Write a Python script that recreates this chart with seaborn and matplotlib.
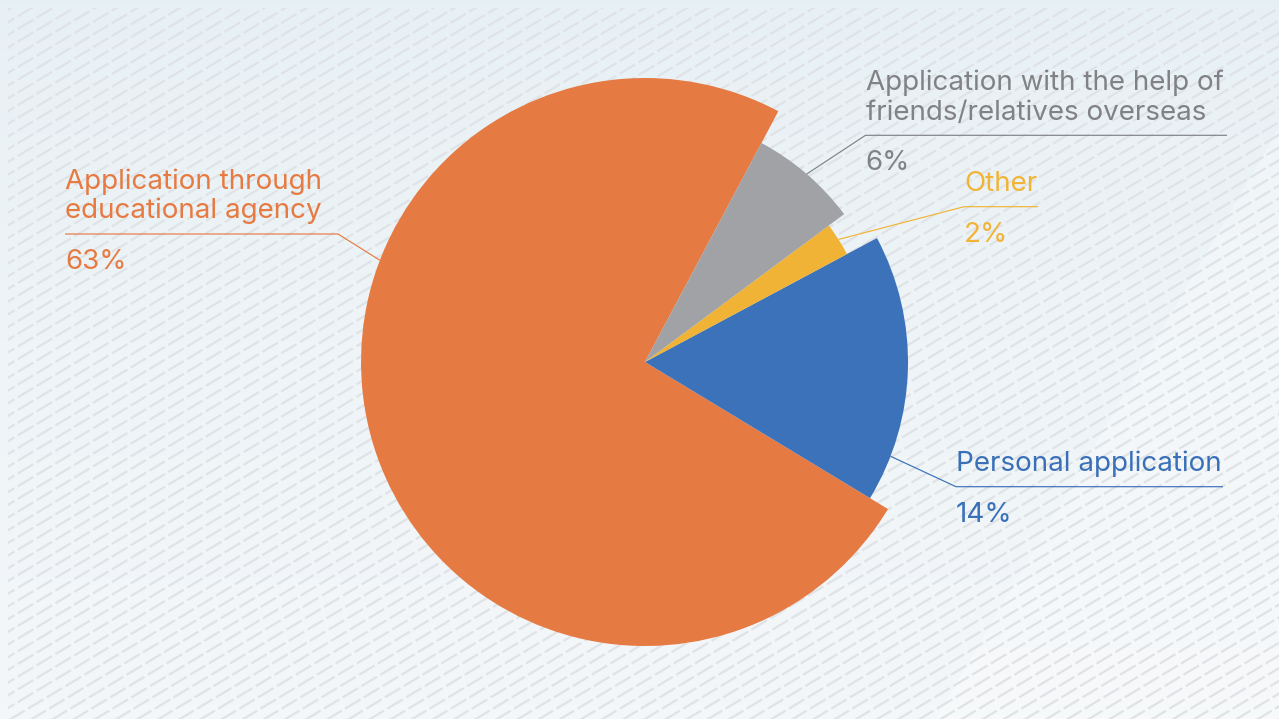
import numpy as np
import matplotlib
matplotlib.use("Agg")
import matplotlib.pyplot as plt
from matplotlib.collections import LineCollection
from matplotlib.patches import Polygon
import seaborn as sns

# ---- data -------------------------------------------------------------
categories = [
    "Application through\neducational agency",
    "Personal application",
    "Other",
    "Application with the help of\nfriends/relatives overseas",
]
shares = [63, 14, 2, 6]
value_labels = ["63%", "14%", "2%", "6%"]

# ---- style ------------------------------------------------------------
sns.set_theme(style="white")
plt.rcParams["font.family"] = ["Inter", "DejaVu Sans"]
plt.rcParams["lines.scale_dashes"] = False

wedge_colors = sns.color_palette(["#E67A43", "#3C72B9", "#F0B335", "#A1A2A5"])
text_colors = ["#E67A41", "#3A70B8", "#F1B434", "#808285"]
wedge_radius = [284, 263, 229, 248]          # each slice drawn at its own radius

W, H = 1279, 719
fig = plt.figure(figsize=(W / 100, H / 100), dpi=100)
ax = fig.add_axes([0, 0, 1, 1])

# ---- background: soft gradient + diagonal dashed texture ---------------
yy, xx = np.mgrid[0:1:200j, 0:1:360j]
top = np.array([0.905, 0.942, 0.960])
bot = np.array([0.957, 0.969, 0.980])
t = (yy ** 0.8)[..., None]
grad = top * (1 - t) + bot * t
ax.imshow(np.clip(grad, 0, 1), extent=[0, W, 0, H], origin="upper",
          aspect="auto", zorder=0, interpolation="bicubic")

light = Polygon([[1330, H - 40], [W + 10, -10], [930, -10]], closed=True,
                facecolor="white", alpha=0.28, edgecolor="none", zorder=0.5)
ax.add_patch(light)

ang = np.deg2rad(31)
step = 12.7                                  # vertical spacing of texture rows
segs = []
for c in np.arange(-W * np.tan(ang), H + 40, step):
    x0, x1 = -20, W + 20
    segs.append([(x0, c + x0 * np.tan(ang)), (x1, c + x1 * np.tan(ang))])
hatch = LineCollection(segs, colors="#E0E3E6", linewidths=1.6,
                       linestyles=[(0, (13, 2.8))], zorder=1)
ax.add_collection(hatch)
clip = plt.Rectangle((8, 0), W, H - 8, transform=ax.transData)
hatch.set_clip_path(clip)

# ---- pie --------------------------------------------------------------
cx, cy = 645, H - 362
wedges, _ = ax.pie(shares, colors=wedge_colors, startangle=62,
                   counterclock=True, radius=284, center=(cx, cy),
                   wedgeprops=dict(linewidth=0))
for w, r in zip(wedges, wedge_radius):
    w.set_radius(r)
    w.set_zorder(3)

# ---- labels with leader lines -----------------------------------------
# anchor angle on each slice edge (None = middle of the slice)
anchor_angle = [159, -21, None, None]
# label block: left x, underline y, underline right x (pixel units, y from top)
label_box = [
    (65, 234, 338, "left"),
    (956, 486.7, 1223, "right"),
    (964, 206.7, 1038, "right"),
    (865.5, 135.3, 1227, "right"),
]
fs = 20
lh = 29.5

for i, w in enumerate(wedges):
    a = anchor_angle[i]
    if a is None:
        a = (w.theta1 + w.theta2) / 2
    r = wedge_radius[i]
    px = cx + r * np.cos(np.deg2rad(a))
    py = cy + r * np.sin(np.deg2rad(a))
    lx, uy, rx, side = label_box[i]
    uy = H - uy
    col = text_colors[i]
    elbow_x = rx if side == "left" else lx
    far_x = lx if side == "left" else rx
    ax.plot([px, elbow_x, far_x], [py, uy, uy], color=col, lw=0.85,
            solid_capstyle="butt", zorder=4)
    lines = categories[i].split("\n")
    base = uy + 15.5
    for k, line in enumerate(reversed(lines)):
        ax.text(lx, base + k * lh, line, color=col, fontsize=fs,
                ha="left", va="baseline", zorder=5)
    ax.text(lx, uy - 35, value_labels[i], color=col, fontsize=fs,
            ha="left", va="baseline", zorder=5)

ax.set_xlim(0, W)
ax.set_ylim(0, H)
ax.set_aspect("auto")
ax.axis("off")

fig.savefig("out.png", dpi=100)
